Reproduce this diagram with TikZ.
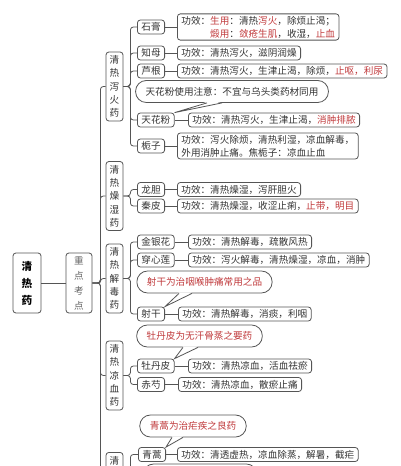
\documentclass[tikz,border=0pt]{standalone}
\usepackage{fontspec}
\setmainfont{Noto Sans CJK SC}
\usepackage{xcolor}
\usepackage{tikz}
\usetikzlibrary{positioning,calc}
\definecolor{lineGray}{HTML}{555555}
\definecolor{textDark}{HTML}{333333}
\definecolor{noteRed}{HTML}{C0393B}
\newcommand{\hl}[1]{\textcolor{noteRed}{#1}}

\begin{document}
\begin{tikzpicture}[x=0.75pt,y=-0.75pt,font=\fontsize{7.2}{9.8}\selectfont,
  box/.style={draw=lineGray,line width=0.6pt,rounded corners=2.2pt,text=textDark,inner xsep=3pt,inner ysep=1.5pt,minimum height=10.5pt},
  item/.style={box,anchor=west},
  func/.style={box,anchor=west,align=left},
  grp/.style={box,align=center,minimum width=12.75pt,minimum height=51.75pt,inner xsep=1pt,font=\fontsize{7.2}{10}\selectfont},
  note/.style={draw=lineGray,line width=0.6pt,rounded corners=8pt,fill=white,text=noteRed,inner xsep=7.5pt,minimum height=16.5pt},
  ln/.style={draw=lineGray,line width=0.6pt,rounded corners=2.2pt}]
\useasboundingbox (0,0) rectangle (400,466);
\clip (0,0) rectangle (400,466);

% root and key points
\node[box,minimum width=21pt,minimum height=45pt,align=center,font=\fontsize{8}{12.75}\selectfont\bfseries,text=black] (root) at (27,283) {清\\热\\药};
\node[box,minimum width=19.5pt,minimum height=45pt,align=center,font=\fontsize{7.2}{11.25}\selectfont,text=black!60] (kd) at (79,283) {重\\点\\考\\点};

% groups
\node[grp] (g1) at (114.5,86.5) {清\\热\\泻\\火\\药};
\node[grp] (g2) at (114.5,196) {清\\热\\燥\\湿\\药};
\node[grp] (g3) at (114.5,278.5) {清\\热\\解\\毒\\药};
\node[grp] (g4) at (114.5,375.5) {清\\热\\凉\\血\\药};
\node[grp,anchor=north,text depth=40pt] (g5) at (114.5,452) {清};

% herbs
\node[item] (sg) at (137,27) {石膏};
\node[item] (zm) at (137,53) {知母};
\node[item] (lg) at (137,71) {芦根};
\node[item] (tf) at (137,120) {天花粉};
\node[item] (zz) at (137,146) {栀子};
\node[item] (ld) at (137,189.5) {龙胆};
\node[item] (qp) at (137,206) {秦皮};
\node[item] (jy) at (137,242) {金银花};
\node[item] (cx) at (137,260) {穿心莲};
\node[item] (sgan) at (137,314) {射干};
\node[item] (md) at (137,366) {牡丹皮};
\node[item] (cs) at (137,384.5) {赤芍};
\node[item] (qh) at (138,454.5) {青蒿};

% effects
\node[func] (sgf) at (177,27) {功效：\hl{生用}：清热\hl{泻火}，除烦止渴；\\\phantom{功效：}\hl{煅用}：\hl{敛疮生肌}，收湿，\hl{止血}};
\node[func] (zmf) at (177,53) {功效：清热泻火，滋阴润燥};
\node[func] (lgf) at (177,71) {功效：清热泻火，生津止渴，除烦，\hl{止呕，利尿}};
\node[func] (tff) at (188,120) {功效：清热泻火，生津止渴，\hl{消肿排脓}};
\node[func] (zzf) at (177,146) {功效：泻火除烦，清热利湿，凉血解毒，\\外用消肿止痛。焦栀子：凉血止血};
\node[func] (ldf) at (177,189.5) {功效：清热燥湿，泻肝胆火};
\node[func] (qpf) at (177,206) {功效：清热燥湿，收涩止痢，\hl{止带，明目}};
\node[func] (jyf) at (188,242) {功效：清热解毒，疏散风热};
\node[func] (cxf) at (188,260) {功效：泻火解毒，清热燥湿，凉血，消肿};
\node[func] (sganf) at (178,314) {功效：清热解毒，消痰，利咽};
\node[func] (mdf) at (188,366) {功效：清热凉血，活血祛瘀};
\node[func] (csf) at (178,384.5) {功效：清热凉血，散瘀止痛};
\node[func] (qhf) at (177,454.5) {功效：清透虚热，凉血除蒸，解暑，截疟};

% connectors
\draw[ln] (root) -- (kd);
\foreach \g in {g1,g2,g3,g4,g5} \draw[ln] (kd.east) -- ++(8,0) |- (\g.west);
\foreach \i in {sg,zm,lg,tf,zz} \draw[ln] (g1.east) -- ++(7,0) |- (\i.west);
\foreach \i in {ld,qp} \draw[ln] (g2.east) -- ++(7,0) |- (\i.west);
\foreach \i in {jy,cx,sgan} \draw[ln] (g3.east) -- ++(7,0) |- (\i.west);
\foreach \i in {md,cs} \draw[ln] (g4.east) -- ++(7,0) |- (\i.west);
\draw[ln] (g5.east) -- ++(7,0) |- (qh.west);
\foreach \i in {sg,zm,lg,tf,zz,ld,qp,jy,cx,sgan,md,cs,qh} \draw[ln] (\i) -- (\i f);

% callouts
\node[note,text=textDark] (n1) at (232,91.5) {天花粉使用注意：不宜与乌头类药材同用};
\node[note] (n2) at (204.5,282) {射干为治咽喉肿痛常用之品};
\node[note] (n3) at (199.5,336) {牡丹皮为无汗骨蒸之要药};
\node[note] (n4) at (193,426) {青蒿为治疟疾之良药};
\draw[ln,rounded corners=8pt,fill=white] (143,464) rectangle (257,487);
\foreach \n/\i/\a/\b in {n1/tf/207/222,n2/sgan/179/192,n3/md/183/198,n4/qh/172/183}{
  \coordinate (\n-l) at (\a,0 |- \n.south);
  \coordinate (\n-r) at (\b,0 |- \n.south);
  \fill[white] (\i.north east) -- ([yshift=0.8pt]\n-l) -- ([yshift=0.8pt]\n-r) -- cycle;
  \draw[ln,sharp corners] (\n-l) -- (\i.north east) -- (\n-r);
}
\end{tikzpicture}
\end{document}
